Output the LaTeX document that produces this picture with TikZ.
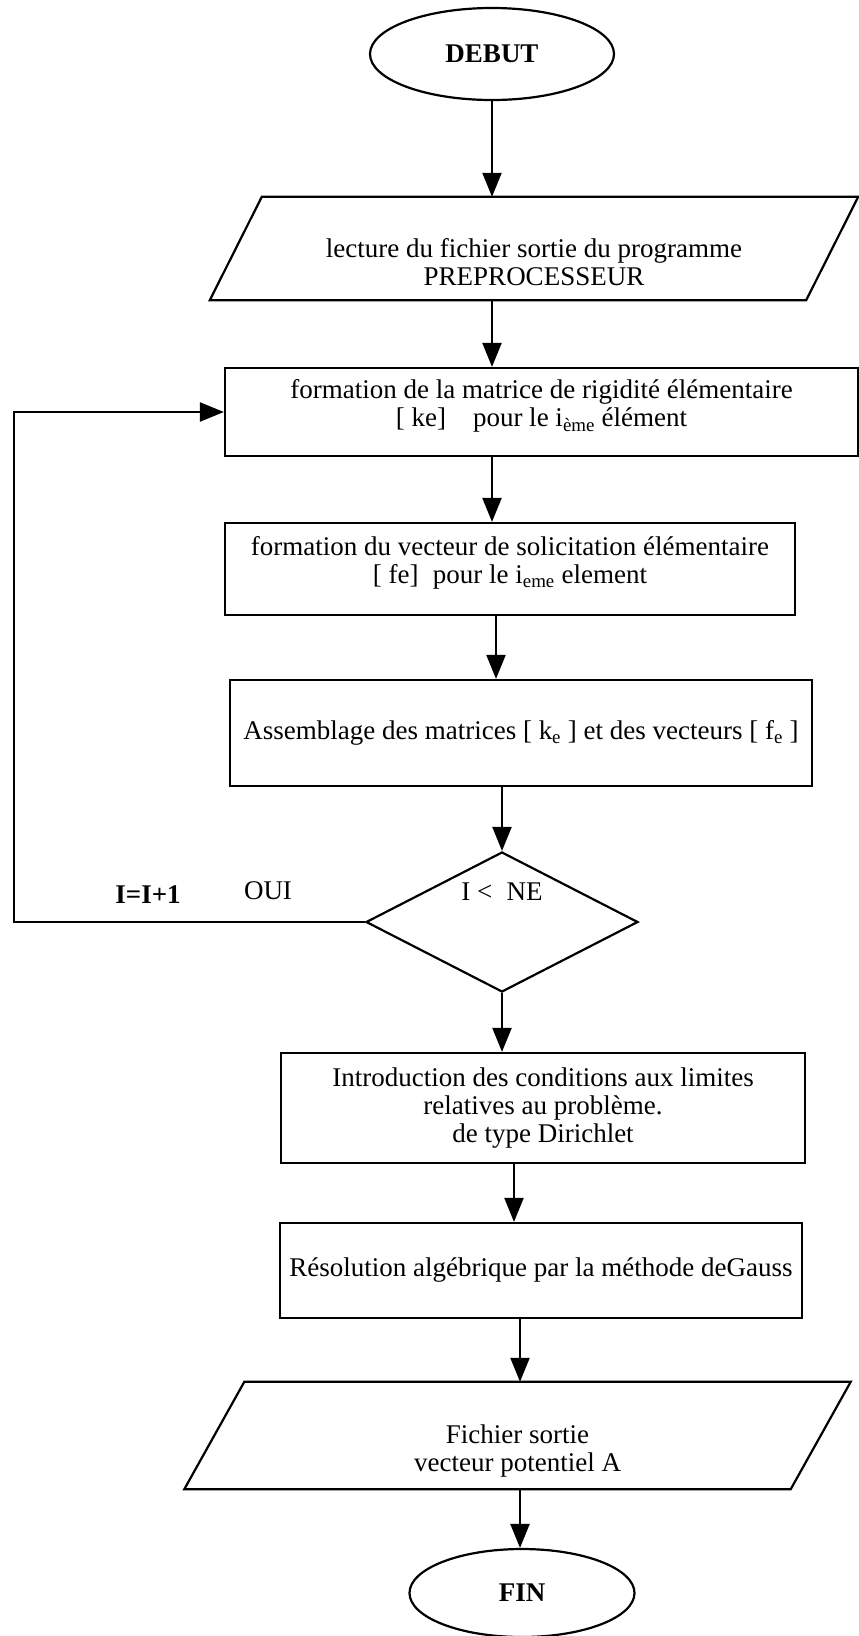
\documentclass[tikz,border=0pt]{standalone}
\usepackage{fontspec}
\setmainfont{Liberation Serif}
\usepackage{tikz}
\usetikzlibrary{arrows.meta,shapes.geometric}
\tikzstyle{trait} = [line width=2.2pt]
\tikzstyle{fleche} = [trait,-{Triangle[width=19pt,length=24pt]}]
\tikzstyle{boite} = [draw,trait,rectangle,inner sep=0pt,align=center]
\tikzstyle{terminal} = [draw,trait,ellipse,inner sep=0pt]
\tikzstyle{entree} = [inner sep=0pt,align=center]
\tikzstyle{test} = [draw,trait,diamond,inner sep=0pt]
% parallelogramme autour d'un noeud
\newcommand{\paral}[2]{\draw[trait] ([xshift=-#2]#1.south west) -- ([xshift=#2]#1.north west) -- ([xshift=#2]#1.north east) -- ([xshift=-#2]#1.south east) -- cycle;}

\begin{document}
\begin{tikzpicture}[x=1pt,y=-1pt,every node/.style={font=\fontsize{27}{28}\selectfont}]
	\useasboundingbox (0,0) rectangle (859,1636);
	\coordinate (col1) at (492,0);
	\coordinate (col2) at (496,0);
	\coordinate (col3) at (514,0);
	\coordinate (col4) at (520,0);
	\coordinate (boucle) at (14,412);
	\node[terminal,minimum width=244pt,minimum height=92pt] (debut) at (492,54) {\textbf{DEBUT}};
	\node[entree,minimum width=596pt,minimum height=103pt] (lect) at (534,248.5) {~\\[18pt]lecture du fichier sortie du programme\\PREPROCESSEUR};
	\paral{lect}{26pt}
	\node[boite,minimum width=633pt,minimum height=88pt] (mat) at (541.5,412) {formation de la matrice de rigidité élémentaire\\{[} ke]\quad pour le i\textsubscript{ème} élément\\[-10pt]~};
	\node[boite,minimum width=570pt,minimum height=92pt] (vect) at (510,569) {formation du vecteur de solicitation élémentaire\\{[} fe]\; pour le i\textsubscript{eme} element\\[-10pt]~};
	\node[boite,minimum width=582pt,minimum height=106pt] (assem) at (521,733) {Assemblage des matrices [ k\textsubscript{e} ] et des vecteurs [ f\textsubscript{e} ]};
	\node[test,minimum width=272pt,minimum height=140pt,label={[yshift=30pt]center:I <\; NE}] (test) at (502,922) {};
	\node (incr) at (148,895) {\textbf{I=I+1}};
	\node (oui) at (268,891) {OUI};
	\node[boite,minimum width=524pt,minimum height=110pt] (cond) at (543,1108) {Introduction des conditions aux limites\\relatives au problème.\\de type Dirichlet\\[-22pt]~};
	\node[boite,minimum width=522pt,minimum height=95pt] (gauss) at (541,1270.5) {Résolution algébrique par la méthode deGauss};
	\node[entree,minimum width=606pt,minimum height=107pt] (sortie) at (517.5,1435.5) {~\\[22pt]Fichier sortie\\vecteur potentiel A};
	\paral{sortie}{30pt}
	\node[terminal,minimum width=225pt,minimum height=88pt] (fin) at (522,1593) {\textbf{FIN}};
	\draw[fleche] (debut.south) -- (debut.south |- lect.north);
	\draw[fleche] (lect.south -| col1) -- (mat.north -| col1);
	\draw[fleche] (mat.south -| col1) -- (vect.north -| col1);
	\draw[fleche] (vect.south -| col2) -- (assem.north -| col2);
	\draw[fleche] (assem.south -| test.north) -- (test.north);
	\draw[fleche] (test.west) -| (boucle) -- (mat.west);
	\draw[fleche] (test.south) -- (cond.north -| test.south);
	\draw[fleche] (cond.south -| col3) -- (gauss.north -| col3);
	\draw[fleche] (gauss.south -| col4) -- (sortie.north -| col4);
	\draw[fleche] (sortie.south -| col4) -- (fin.north -| col4);
\end{tikzpicture}
\end{document}
